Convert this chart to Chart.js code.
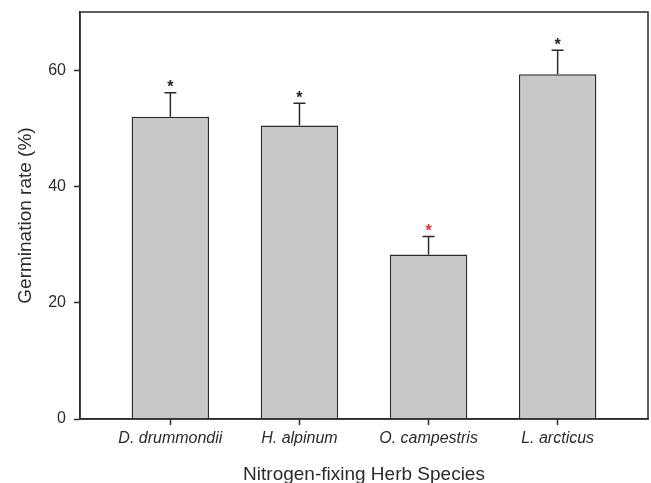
<!DOCTYPE html>
<html>
<head>
<meta charset="utf-8">
<script src="https://cdn.jsdelivr.net/npm/chart.js@4"></script>
<style>
  html, body { margin: 0; padding: 0; background: #fff; }
  #wrap { width: 651px; height: 483px; }
</style>
</head>
<body>
<div id="wrap"><canvas id="germChart" width="651" height="483"></canvas></div>
<script>
const species = ['D. drummondii', 'H. alpinum', 'O. campestris', 'L. arcticus'];
const germination = [52.0, 50.5, 28.3, 59.3];
const errors = [4.1, 3.8, 3.1, 4.1];
const starColors = ['#222222', '#222222', '#e8302a', '#222222'];
const yTicks = [0, 20, 40, 60];

const FONT = "Arial, 'Liberation Sans', sans-serif";
const INK = '#2b2b2b';

// frame round the plot area, plus error bars and stars
const extras = {
  id: 'extras',
  afterDatasetsDraw(chart) {
    const { ctx, chartArea: a, scales: { x, y } } = chart;
    ctx.save();
    ctx.strokeStyle = INK;
    ctx.lineWidth = 1.5;
    ctx.strokeRect(a.left, a.top, a.right - a.left, a.bottom - a.top);

    germination.forEach((v, i) => {
      const cx = x.getPixelForValue(i + 1);
      const y0 = y.getPixelForValue(v);
      const y1 = y.getPixelForValue(v + errors[i]);
      ctx.beginPath();
      ctx.moveTo(cx, y0);
      ctx.lineTo(cx, y1);
      ctx.moveTo(cx - 6, y1);
      ctx.lineTo(cx + 6, y1);
      ctx.stroke();

      ctx.fillStyle = starColors[i];
      ctx.font = 'bold 16px ' + FONT;
      ctx.textAlign = 'center';
      ctx.textBaseline = 'middle';
      ctx.fillText('*', cx, y1 - 5);
    });
    ctx.restore();
  }
};

new Chart(document.getElementById('germChart').getContext('2d'), {
  type: 'bar',
  data: {
    datasets: [{
      data: germination.map((v, i) => ({ x: i + 1, y: v })),
      backgroundColor: '#c8c8c8',
      borderColor: INK,
      borderWidth: 1.5,
      borderSkipped: 'bottom',
      barPercentage: 0.6,
      categoryPercentage: 1
    }]
  },
  options: {
    responsive: false,
    animation: false,
    layout: { padding: { top: 12, right: 3, left: 0, bottom: 0 } },
    plugins: { legend: { display: false }, tooltip: { enabled: false } },
    scales: {
      x: {
        type: 'linear',
        min: 0.3,
        max: 4.7,
        offset: false,
        afterBuildTicks: s => { s.ticks = species.map((_, i) => ({ value: i + 1 })); },
        afterFit: s => { s.height = 64; s.paddingLeft = 0; s.paddingRight = 0; },
        grid: { offset: false, drawOnChartArea: false, drawTicks: true, tickLength: 6, tickColor: INK, tickWidth: 1.5 },
        border: { color: INK, width: 1.5 },
        ticks: {
          autoSkip: false,
          maxRotation: 0,
          padding: 4,
          color: INK,
          font: { family: FONT, size: 16, style: 'italic' },
          callback: v => species[v - 1] || ''
        },
        title: {
          display: true,
          text: 'Nitrogen-fixing Herb Species',
          color: INK,
          font: { family: FONT, size: 19 },
          padding: { top: 0, bottom: -3 }
        }
      },
      y: {
        min: 0,
        max: 70,
        afterBuildTicks: s => { s.ticks = yTicks.map(v => ({ value: v })); },
        afterFit: s => { s.width = 80; s.paddingTop = 0; s.paddingBottom = 0; },
        grid: { drawOnChartArea: false, drawTicks: true, tickLength: 6, tickColor: INK, tickWidth: 1.5 },
        border: { color: INK, width: 1.5 },
        ticks: {
          padding: 8,
          color: INK,
          font: { family: FONT, size: 16 }
        },
        title: {
          display: true,
          text: 'Germination rate (%)',
          color: INK,
          font: { family: FONT, size: 19 },
          padding: { top: 14, bottom: 0 }
        }
      }
    }
  },
  plugins: [extras]
});
</script>
</body>
</html>
